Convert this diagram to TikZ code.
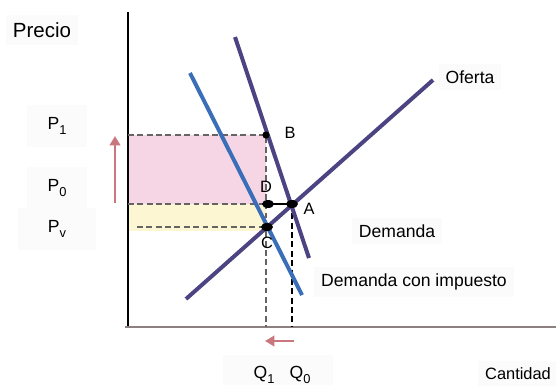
\documentclass[tikz,border=0pt]{standalone}
\usepackage{fontspec}
\setmainfont{Liberation Sans}
\usepackage{xcolor}
\definecolor{mkpurple}{RGB}{75,67,130}
\definecolor{mkblue}{RGB}{58,110,185}
\definecolor{mkpink}{RGB}{246,214,228}
\definecolor{mkyellow}{RGB}{253,246,210}
\definecolor{mkred}{RGB}{200,120,125}
\definecolor{mkgray}{RGB}{100,100,100}
\definecolor{mkaxis}{RGB}{140,128,128}
\usetikzlibrary{arrows.meta, positioning, calc}
\newcommand{\sub}[1]{\raisebox{-4pt}{\fontsize{11}{11}\selectfont #1}}
\tikzset{
  lbl/.style={font=\fontsize{15}{18}\selectfont, fill=black!1.5, inner sep=6pt},
  ptlbl/.style={font=\fontsize{14}{16}\selectfont, inner sep=1pt},
  curve/.style={line width=3.4pt, mkpurple},
  guide/.style={mkgray, dashed, line width=1.1pt, dash pattern=on 5pt off 3pt},
  shiftarrow/.style={mkred, line width=1.8pt, -{Triangle[length=8pt, width=9pt]}}
}
\begin{document}
\begin{tikzpicture}[x=0.03cm, y=-0.03cm]
      \useasboundingbox (0,0) rectangle (556,385);

      % Points
      \coordinate (B) at (266,135);
      \coordinate (D) at (268,204);
      \coordinate (A) at (292,204);
      \coordinate (C) at (267,227);
      \coordinate (origin) at (128,327);

      % Shaded areas
      \fill[mkpink] (128,135) rectangle (266,204);
      \fill[mkyellow] (128,204) rectangle (266,231);

      % Axes
      \draw[black, line width=1.3pt] (128,12) -- (origin);
      \draw[mkaxis, line width=1.3pt] (125,327) -- (556,327);

      % Guides
      \draw[guide] (128,135) -- (B) -- (266,327);
      \draw[guide] (128,204) -- (D);
      \draw[black, line width=1.1pt] (D) -- (A);
      \draw[guide] (137,227) -- (C);
      \draw[black, dashed, line width=1pt, dash pattern=on 5pt off 3pt] (A) -- (292,327);

      % Curves
      \draw[curve] (235,37) coordinate (dtop) -- (309,258) coordinate (dbot);
      \draw[curve] (186,299) coordinate (sbot) -- (433,80) coordinate (stop);
      \draw[curve, mkblue] (190,73) coordinate (ttop) -- (302,295) coordinate (tbot);

      % Dots
      \fill (B) circle (3.6);
      \fill (D) ellipse (6 and 4);
      \fill (A) ellipse (6 and 4);
      \fill (C) ellipse (6 and 4);

      % Shift arrows
      \coordinate (pup0) at (115,203);
      \coordinate (pup1) at (115,136);
      \draw[shiftarrow] (pup0) -- (pup1);
      \coordinate (qleft0) at (294,341);
      \coordinate (qleft1) at (265,341);
      \draw[shiftarrow] (qleft0) -- (qleft1);

      % Point labels
      \node[ptlbl] (labB) at (290,133) {B};
      \node[ptlbl] (labD) at (266,187) {D};
      \node[ptlbl] (labA) at (309,209) {A};
      \node[ptlbl] (labC) at (267,243) {C};

      % Axis labels
      \node[lbl, font=\fontsize{17.5}{20}\selectfont] (precio) at (42,30) {Precio};
      \node[lbl, minimum width=60*0.03cm, minimum height=42*0.03cm] (p1) at (57,126) {P\sub{1}};
      \node[lbl, minimum width=60*0.03cm, minimum height=42*0.03cm] (p0) at (57,188) {P\sub{0}};
      \node[lbl, minimum width=78*0.03cm, minimum height=42*0.03cm] (pv) at (57,229) {P\sub{v}};
      \fill[black!1.5] (223,355) rectangle (333,385);
      \node[lbl, fill=none] (q1) at (264,375) {Q\sub{1}};
      \node[lbl, fill=none] (q0) at (300,375) {Q\sub{0}};
      \node[lbl, font=\fontsize{14}{17}\selectfont] (cantidad) at (518,374) {Cantidad};

      % Curve labels
      \node[lbl] (oferta) at (470,77) {Oferta};
      \node[lbl] (demanda) at (397,231) {Demanda};
      \node[lbl] (impuesto) at (414,282) {Demanda con impuesto};
\end{tikzpicture}
\end{document}
